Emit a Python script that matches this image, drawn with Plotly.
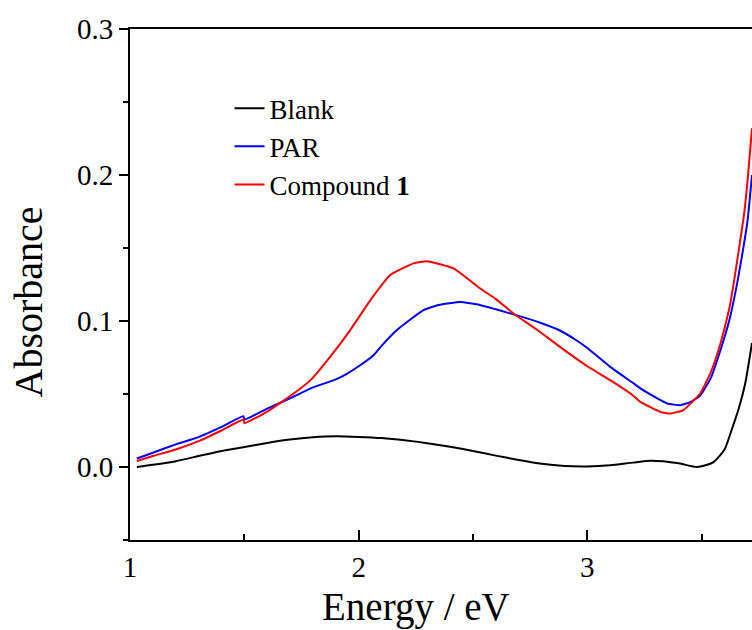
import plotly.graph_objects as go

# Energy (eV) and absorbance values
blank_x = [1.03, 1.1, 1.2, 1.3, 1.4, 1.5, 1.6, 1.7, 1.8, 1.9, 2.0, 2.1, 2.2, 2.3, 2.4, 2.5,
           2.6, 2.7, 2.8, 2.9, 3.0, 3.1, 3.2, 3.28, 3.4, 3.48, 3.55, 3.6, 3.63, 3.66, 3.69, 3.72]
blank_y = [0.0, 0.0015, 0.004, 0.0075, 0.011, 0.0137, 0.0165, 0.0188, 0.0203, 0.021, 0.0206,
           0.0198, 0.0183, 0.0163, 0.0138, 0.011, 0.0078, 0.0048, 0.0022, 0.0007, 0.0004,
           0.0012, 0.003, 0.0042, 0.0025, 0.0, 0.0032, 0.012, 0.025, 0.039, 0.057, 0.085]

par_x = [1.03, 1.1, 1.2, 1.3, 1.4, 1.496, 1.5, 1.6, 1.7, 1.8, 1.9, 1.95, 2.0, 2.065, 2.1,
         2.167, 2.2, 2.284, 2.35, 2.444, 2.53, 2.6, 2.7, 2.8, 2.88, 2.95, 3.0, 3.1, 3.2,
         3.232, 3.3, 3.349, 3.407, 3.45, 3.494, 3.54, 3.582, 3.62, 3.655, 3.68, 3.70, 3.72]
par_y = [0.0058, 0.0098, 0.0155, 0.0205, 0.0275, 0.0348, 0.0325, 0.040, 0.047, 0.0545,
         0.060, 0.064, 0.069, 0.0766, 0.083, 0.0938, 0.098, 0.1075, 0.111, 0.113, 0.111,
         0.108, 0.1035, 0.0985, 0.0935, 0.087, 0.0815, 0.0686, 0.0575, 0.0538, 0.0475,
         0.0435, 0.0423, 0.0445, 0.049, 0.061, 0.080, 0.100, 0.1258, 0.148, 0.168, 0.200]

cmp_x = [1.03, 1.1, 1.2, 1.3, 1.4, 1.496, 1.5, 1.6, 1.67, 1.735, 1.79, 1.875, 1.963, 2.05,
         2.138, 2.24, 2.298, 2.415, 2.53, 2.6, 2.678, 2.78, 2.88, 3.0, 3.1, 3.2, 3.232, 3.32,
         3.363, 3.42, 3.494, 3.54, 3.582, 3.62, 3.64, 3.684, 3.70, 3.72]
cmp_y = [0.0041, 0.0075, 0.012, 0.0177, 0.025, 0.0325, 0.030, 0.038, 0.0453, 0.0526, 0.0595,
         0.0754, 0.0938, 0.114, 0.1315, 0.1395, 0.141, 0.136, 0.1224, 0.115, 0.105, 0.094,
         0.0823, 0.069, 0.0595, 0.049, 0.0446, 0.0377, 0.0366, 0.039, 0.0505, 0.065, 0.0846,
         0.108, 0.1258, 0.1715, 0.195, 0.232]

x_ticks = [1, 2, 3]
y_ticks = [0.0, 0.1, 0.2, 0.3]

FONT = "Liberation Serif, Times New Roman, serif"

fig = go.Figure()
fig.add_trace(go.Scatter(x=blank_x, y=blank_y, mode="lines", name="Blank",
                         line=dict(color="#000000", width=2, shape="spline", smoothing=0.6)))
fig.add_trace(go.Scatter(x=par_x, y=par_y, mode="lines", name="PAR",
                         line=dict(color="#0000ff", width=2, shape="spline", smoothing=0.4)))
fig.add_trace(go.Scatter(x=cmp_x, y=cmp_y, mode="lines", name="Compound <b>1</b>",
                         line=dict(color="#ff0000", width=2, shape="spline", smoothing=0.4)))

fig.update_layout(
    width=752, height=630,
    margin=dict(l=130, r=0, t=29, b=90),
    paper_bgcolor="white", plot_bgcolor="white",
    font=dict(family=FONT, color="black", size=29),
    showlegend=True,
    legend=dict(x=0.16, y=0.892, xanchor="left", yanchor="top",
                bgcolor="rgba(0,0,0,0)", font=dict(size=27, family=FONT),
                tracegroupgap=0),
    xaxis=dict(range=[1, 3.72], tickvals=x_ticks, ticktext=[str(v) for v in x_ticks],
               ticks="inside", ticklen=10, tickwidth=2, tickcolor="black",
               minor=dict(dtick=0.5, tick0=1, ticks="inside", ticklen=6, tickwidth=2,
                          tickcolor="black"),
               showline=True, linewidth=2, linecolor="black", mirror=True,
               showgrid=False, zeroline=False, ticklabelstandoff=0,
               tickfont=dict(size=29, family=FONT)),
    yaxis=dict(range=[-0.05, 0.3], tickvals=y_ticks, tickformat=".1f",
               ticks="outside", ticklen=9, tickwidth=2, tickcolor="black",
               minor=dict(dtick=0.05, tick0=0, ticks="outside", ticklen=5, tickwidth=2,
                          tickcolor="black"),
               showline=True, linewidth=2, linecolor="black", mirror=False,
               showgrid=False, zeroline=False,
               tickfont=dict(size=29, family=FONT)),
    annotations=[
        dict(text="Energy / eV", xref="paper", yref="paper", x=0.46, y=-0.131,
             xanchor="center", yanchor="middle", showarrow=False,
             font=dict(size=39, family=FONT)),
        dict(text="Absorbance", xref="paper", yref="paper", x=-0.163, y=0.466,
             xanchor="center", yanchor="middle", showarrow=False, textangle=-90,
             font=dict(size=40, family=FONT)),
    ],
)

fig.write_html(
    "out.html",
    config={"displayModeBar": False},
    default_width="752px",
    default_height="630px",
    post_script=("document.body.style.margin='0';"
                 "document.documentElement.style.overflow='hidden';"
                 "document.body.style.overflow='hidden';"),
)
